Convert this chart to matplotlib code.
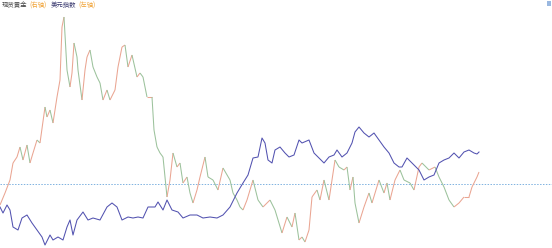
import numpy as np
import matplotlib
matplotlib.use("Agg")
import matplotlib.pyplot as plt
from matplotlib.collections import LineCollection

plt.rcParams['font.family'] = ['Noto Sans CJK SC', 'DejaVu Sans']

# trading-day index and % change vs. base (dashed zero line)
gold_day = [0, 5, 10, 13, 17, 20, 23, 27, 30, 33, 37, 40, 45, 47, 50, 53, 57, 60, 62, 64,
            67, 70, 72, 74, 77, 78, 82, 85, 87, 90, 93, 97, 100, 103, 107, 110, 115, 118, 122, 125,
            128, 132, 137, 140, 143, 147, 152, 154, 157, 160, 163, 167, 170, 173, 177, 180, 183, 187, 190, 193,
            197, 200, 205, 208, 213, 218, 223, 230, 233, 237, 240, 243, 247, 253, 258, 263, 270, 275, 282, 287,
            292, 295, 299, 302, 305, 309, 312, 317, 320, 324, 329, 332, 335, 339, 344, 347, 350, 353, 355, 359,
            364, 369, 372, 379, 384, 387, 390, 395, 400, 404, 410, 414, 419, 422, 429, 435, 439, 444, 449, 454,
            459, 464, 469, 472, 477, 479]
gold_pct = [-2.1, -0.9, 0.4, 2.1, 2.7, 3.7, 2.4, 3.9, 2.1, 3.1, 4.4, 4.1, 7.7, 6.7, 7.4, 6.1, 8.7, 10.4, 15.7, 16.7,
            11.4, 9.7, 11.1, 14.1, 12.7, 11.4, 8.4, 11.4, 12.7, 13.4, 11.7, 10.7, 10.1, 8.4, 9.4, 8.4, 9.4, 11.7, 13.7, 13.9,
            11.7, 12.9, 10.7, 11.1, 10.7, 8.7, 8.7, 5.4, 3.7, 3.1, 2.7, -1.3, 0.4, 3.1, 1.7, 2.1, 0.1, 0.7, -0.9, -1.9,
            -0.6, 0.7, 2.7, 0.7, 0.4, -0.6, 1.6, 0.4, -0.9, -1.6, -2.3, -2.6, -1.6, 0.4, -1.6, -2.3, -1.6, -2.6, -4.9, -3.3,
            -4.3, -2.9, -5.6, -5.3, -5.8, -4.6, -1.3, -0.6, -1.6, 0.4, -1.6, 0.4, 2.4, 1.7, 1.4, 1.7, -0.6, 0.7, -1.9, -3.9,
            -2.3, -0.9, -1.9, 0.4, -0.9, 0.1, -1.6, 0.4, 1.4, 0.4, 0.1, -0.6, 1.7, 2.1, 1.4, 1.7, 0.7, -0.3, -1.6, -2.3,
            -1.9, -1.3, -1.3, -0.3, 0.7, 1.2]

usd_day = [0, 3, 7, 10, 13, 18, 22, 27, 32, 37, 42, 45, 50, 53, 58, 63, 67, 70, 73, 77,
           83, 88, 93, 100, 107, 112, 117, 122, 128, 133, 138, 143, 148, 155, 158, 163, 167, 172, 178, 183,
           190, 197, 203, 210, 217, 223, 230, 237, 243, 248, 253, 258, 262, 265, 268, 272, 275, 280, 285, 289,
           294, 299, 302, 309, 314, 319, 324, 329, 334, 337, 342, 347, 352, 355, 359, 364, 369, 374, 379, 384,
           389, 394, 399, 402, 407, 412, 419, 424, 429, 434, 439, 444, 449, 454, 459, 464, 469, 474, 477, 479]
usd_pct = [-2.3, -2.9, -2.1, -2.6, -4.3, -4.6, -3.4, -3.1, -3.9, -4.6, -5.3, -6.1, -5.1, -5.6, -5.3, -5.6, -4.3, -3.6, -5.1, -3.6,
           -2.8, -3.6, -3.4, -3.6, -2.3, -1.9, -2.3, -3.6, -3.3, -3.4, -3.3, -3.4, -2.3, -2.3, -1.8, -2.6, -1.6, -2.6, -2.8, -3.4,
           -3.1, -3.1, -3.4, -3.3, -3.4, -3.1, -2.3, -0.9, 0.1, 0.9, 2.6, 2.7, 4.6, 4.1, 2.4, 2.1, 3.4, 3.7, 3.1, 2.7,
           2.9, 4.4, 4.1, 4.4, 3.1, 2.6, 2.1, 2.7, 2.9, 3.4, 2.7, 3.1, 4.1, 5.2, 5.7, 5.1, 4.7, 5.1, 4.4, 3.7,
           3.1, 2.1, 1.7, 1.7, 2.6, 2.1, 1.4, 0.4, 0.7, 0.9, 2.1, 2.4, 2.6, 3.1, 2.6, 3.2, 3.4, 3.1, 3.0, 3.2]

legend_names = ["现货黄金", "美元指数"]
legend_tags = ["(右轴)", "(左轴)"]

fig = plt.figure(figsize=(5.52, 2.48), dpi=100)
ax = fig.add_axes([0, 0, 1, 1])
ax.set_xlim(0, 552)
ax.set_ylim(-6.4, 18.4)
ax.axis('off')

# baseline
ax.axhline(0, color='#7fb2e0', lw=0.7, ls=(0, (1.5, 1.5)))

# gold line, colored by direction
gx = np.array(gold_day, dtype=float)
gy = np.array(gold_pct, dtype=float)
pts = np.column_stack([gx, gy]).reshape(-1, 1, 2)
segs = np.concatenate([pts[:-1], pts[1:]], axis=1)
cols = ['#eaa592' if b >= a else '#9cc29c' for a, b in zip(gy[:-1], gy[1:])]
ax.add_collection(LineCollection(segs, colors=cols, linewidths=0.75))

# dollar index
ax.plot(usd_day, usd_pct, color='#5252b0', lw=0.75)

# legend text
fs = 4.6
t1 = ax.text(0.003, 0.995, legend_names[0], transform=ax.transAxes, fontsize=fs,
             color='#444444', va='top', ha='left')
fig.canvas.draw()
r = fig.canvas.get_renderer()
def after(t, s, color, gap=2):
    bb = t.get_window_extent(r)
    x = bb.x1 + gap
    return ax.text(x / fig.bbox.width, 0.995, s, transform=ax.transAxes, fontsize=fs,
                   color=color, va='top', ha='left')
t2 = after(t1, legend_tags[0], '#f0a030')
t3 = after(t2, legend_names[1], '#3a3a70', gap=4)
t4 = after(t3, legend_tags[1], '#f0a030')

# small square marker at top right
ax.add_patch(plt.Rectangle((0.991, 0.975), 0.007, 0.02, transform=ax.transAxes,
                           color='#9ab8e0', lw=0))

fig.savefig('out.png', dpi=100)
